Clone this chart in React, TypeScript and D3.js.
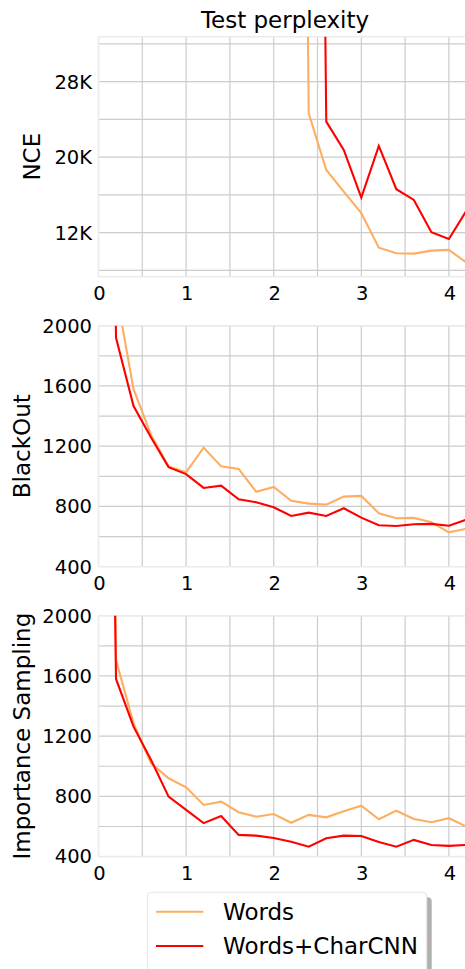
import React from "react";
import * as d3 from "d3";

// ---- data ----
const seriesNames = ["Words", "Words+CharCNN"];
const seriesColors = ["#fdae61", "#ff0000"];

const nceWordsX = [2.2, 2.4, 2.6, 2.8, 3.0, 3.2, 3.4, 3.6, 3.8, 4.0, 4.2];
const nceWords = [200000, 24660, 18650, 16360, 14070, 10420, 9830, 9790, 10100, 10180, 8840];
const nceCharX = [2.4, 2.6, 2.8, 3.0, 3.2, 3.4, 3.6, 3.8, 4.0, 4.2];
const nceChar = [200000, 23770, 20770, 15720, 21200, 16610, 15480, 12050, 11340, 14340];

const epochsFrom02 = [0.2, 0.4, 0.6, 0.8, 1.0, 1.2, 1.4, 1.6, 1.8, 2.0, 2.2, 2.4, 2.6, 2.8, 3.0, 3.2, 3.4, 3.6, 3.8, 4.0, 4.2];
const epochsFrom0 = [0, 0.2, 0.4, 0.6, 0.8, 1.0, 1.2, 1.4, 1.6, 1.8, 2.0, 2.2, 2.4, 2.6, 2.8, 3.0, 3.2, 3.4, 3.6, 3.8, 4.0, 4.2];

const blackoutWords = [2230, 1579, 1275, 1066, 1027, 1191, 1066, 1049, 898, 930, 837, 819, 812, 865, 870, 755, 722, 724, 695, 628, 652];
const blackoutChar = [10000, 1920, 1466, 1258, 1061, 1015, 923, 938, 848, 828, 795, 737, 759, 737, 788, 726, 675, 670, 682, 684, 672, 712];

const isWords = [10000, 1705, 1285, 1020, 920, 860, 743, 765, 695, 665, 683, 625, 677, 661, 701, 738, 648, 705, 650, 628, 655, 600];
const isChar = [10000, 1580, 1263, 1042, 798, 710, 622, 670, 544, 539, 524, 499, 466, 522, 539, 537, 497, 466, 511, 477, 471, 478];

const xTicks = [0, 1, 2, 3, 4];
const xGrid = [0.5, 1, 1.5, 2, 2.5, 3, 3.5, 4, 4.5, 5];
const nceTicks = [12000, 20000, 28000];
const nceTickLabels = ["12K", "20K", "28K"];
const nceGrid = [8000, 12000, 16000, 20000, 24000, 28000, 32000];
const countTicks = [400, 800, 1200, 1600, 2000];
const countGrid = [600, 800, 1000, 1200, 1400, 1600, 1800, 2000];

const panelLabels = ["NCE", "BlackOut", "Importance Sampling"];
const title = "Test perplexity";

// ---- layout ----
const W = 465;
const H = 969;
const FONT = "DejaVu Sans, sans-serif";
const plotLeft = 98.5;
const xScale = d3.scaleLinear().domain([0, 5]).range([plotLeft, plotLeft + 5 * 87.6]);

type Panel = {
  label: string;
  top: number;
  bottom: number;
  domain: [number, number];
  ticks: number[];
  tickLabels: string[];
  grid: number[];
  labelX: number;
  series: { x: number[]; y: number[] }[];
};

const panels: Panel[] = [
  {
    label: panelLabels[0],
    top: 36.7,
    bottom: 276.7,
    domain: [7340, 32770],
    ticks: nceTicks,
    tickLabels: nceTickLabels,
    grid: nceGrid,
    labelX: 40,
    series: [
      { x: nceWordsX, y: nceWords },
      { x: nceCharX, y: nceChar },
    ],
  },
  {
    label: panelLabels[1],
    top: 325.7,
    bottom: 566.7,
    domain: [400, 2000],
    ticks: countTicks,
    tickLabels: countTicks.map(String),
    grid: countGrid,
    labelX: 30,
    series: [
      { x: epochsFrom02, y: blackoutWords },
      { x: epochsFrom0, y: blackoutChar },
    ],
  },
  {
    label: panelLabels[2],
    top: 615.7,
    bottom: 856.6,
    domain: [400, 2000],
    ticks: countTicks,
    tickLabels: countTicks.map(String),
    grid: countGrid,
    labelX: 29.5,
    series: [
      { x: epochsFrom0, y: isWords },
      { x: epochsFrom0, y: isChar },
    ],
  },
];

function PanelView({ p, idx }: { p: Panel; idx: number }) {
  const y = d3.scaleLinear().domain(p.domain).range([p.bottom, p.top]);
  const clipId = `clip-${idx}`;
  const right = W + 20;
  return (
    <g>
      <defs>
        <clipPath id={clipId}>
          <rect x={plotLeft} y={p.top} width={right - plotLeft} height={p.bottom - p.top} />
        </clipPath>
      </defs>
      {/* grid */}
      {p.grid.map((g) => (
        <line key={"hg" + g} x1={plotLeft} x2={right} y1={y(g)} y2={y(g)} stroke="#cccccc" strokeWidth={1.2} />
      ))}
      {xGrid.map((g) => (
        <line key={"vg" + g} x1={xScale(g)} x2={xScale(g)} y1={p.top} y2={p.bottom} stroke="#cccccc" strokeWidth={1.2} />
      ))}
      {/* spines */}
      <line x1={plotLeft} x2={right} y1={p.top} y2={p.top} stroke="#ebebeb" strokeWidth={1.6} />
      <line x1={plotLeft} x2={right} y1={p.bottom} y2={p.bottom} stroke="#ebebeb" strokeWidth={1.6} />
      <line x1={plotLeft} x2={plotLeft} y1={p.top} y2={p.bottom} stroke="#ebebeb" strokeWidth={1.6} />
      {/* series */}
      <g clipPath={`url(#${clipId})`}>
        {p.series.map((s, i) => {
          const pts: [number, number][] = s.x.map((xv, k) => [xv, s.y[k]]);
          const line = d3
            .line<[number, number]>()
            .x((d) => xScale(d[0]))
            .y((d) => y(d[1]));
          return (
            <path key={i} d={line(pts) || ""} fill="none" stroke={seriesColors[i]} strokeWidth={2.1} strokeLinejoin="miter" />
          );
        })}
      </g>
      {/* y ticks */}
      {p.ticks.map((t, k) => (
        <text key={"yt" + t} x={92} y={y(t)} dy="0.35em" textAnchor="end" fontSize={19.5} fontFamily={FONT} fill="#000">
          {p.tickLabels[k]}
        </text>
      ))}
      {/* x ticks */}
      {xTicks.map((t) => (
        <text key={"xt" + t} x={xScale(t) + 1} y={p.bottom + 23.3} textAnchor="middle" fontSize={19.5} fontFamily={FONT} fill="#000">
          {String(t)}
        </text>
      ))}
      {/* y label */}
      <text
        transform={`translate(${p.labelX},${(p.top + p.bottom) / 2}) rotate(-90)`}
        textAnchor="middle"
        fontSize={23}
        fontFamily={FONT}
        fill="#000"
      >
        {p.label}
      </text>
    </g>
  );
}

export default function App() {
  const legendX = 147.3;
  const legendY = 892.3;
  const legendW = 279.4;
  const legendH = 85;
  return (
    <svg
      width={W}
      height={H}
      style={{ position: "absolute", left: 0, top: 0, background: "#fff" }}
      xmlns="http://www.w3.org/2000/svg"
    >
      <rect x={0} y={0} width={W} height={H} fill="#fff" />
      <text x={285} y={27.5} textAnchor="middle" fontSize={23} fontFamily={FONT} fill="#000">
        {title}
      </text>
      {panels.map((p, i) => (
        <PanelView key={i} p={p} idx={i} />
      ))}
      {/* legend */}
      <g>
        <rect x={legendX + 5} y={legendY + 5} width={legendW} height={legendH} rx={4} fill="#b0b0b0" />
        <rect x={legendX} y={legendY} width={legendW} height={legendH} rx={4} fill="#fff" stroke="#e6e6e6" strokeWidth={1} />
        {seriesNames.map((n, i) => {
          const ly = 911.7 + i * 34.3;
          return (
            <g key={n}>
              <line x1={156} x2={203.3} y1={ly} y2={ly} stroke={seriesColors[i]} strokeWidth={2} />
              <text x={223} y={ly} dy="0.35em" fontSize={23} fontFamily={FONT} fill="#000">
                {n}
              </text>
            </g>
          );
        })}
      </g>
    </svg>
  );
}
